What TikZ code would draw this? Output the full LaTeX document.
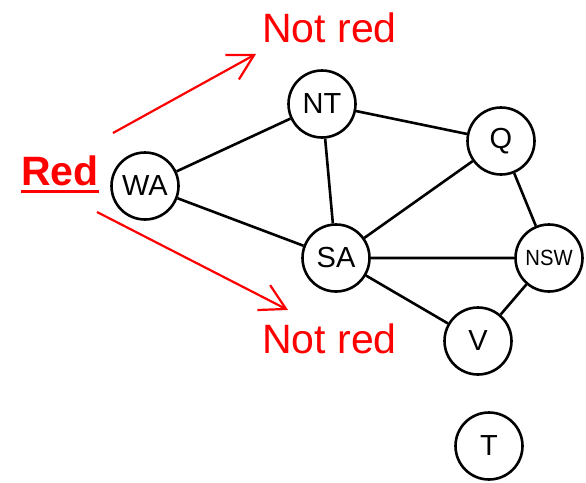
\documentclass[tikz,border=0pt]{standalone}
\usepackage{fontspec}
\setmainfont{Liberation Sans}
\usetikzlibrary{arrows.meta}
\tikzset{
  region/.style={draw,circle,line width=2.6pt,minimum size=67pt,inner sep=0pt,font=\fontsize{29}{29}\selectfont},
  edge/.style={line width=2.6pt},
  hint/.style={red,anchor=base west,inner sep=0pt,font=\fontsize{41}{41}\selectfont},
  pointer/.style={red,line width=2.2pt,-{Straight Barb[length=25pt,width=28pt,line width=2.2pt]}}
}
\begin{document}
\begin{tikzpicture}[x=1pt,y=-1pt]
\useasboundingbox (0,0) rectangle (586,482);
% regions
\node[region] (wa) at (145,186) {WA};
\node[region] (nt) at (322,104) {NT};
\node[region] (q) at (501,141) {Q};
\node[region] (sa) at (336,258) {SA};
\node[region,font=\fontsize{22}{22}\selectfont] (nsw) at (549,258) {\scalebox{0.92}[1]{NSW}};
\node[region] (v) at (478,341) {V};
\node[region] (t) at (489,446) {T};
% borders
\draw[edge] (wa) -- (nt) (wa) -- (sa) (nt) -- (sa) (nt) -- (q) (sa) -- (q)
  (q) -- (nsw) (sa) -- (nsw) (sa) -- (v) (v) -- (nsw);
% labels
\node[hint] (up) at (262,42) {Not red};
\node[hint] (down) at (262,353) {Not red};
\node[hint,font=\bfseries\fontsize{41}{41}\selectfont] (red) at (21,185) {Red};
\draw[red,line width=3pt] ([yshift=-6pt]red.base west) -- ([yshift=-6pt]red.base east);
\coordinate (from1) at (113,133);
\coordinate (to1) at (256,54);
\coordinate (from2) at (97,212);
\coordinate (to2) at (288,310);
\draw[pointer] (from1) -- (to1);
\draw[pointer] (from2) -- (to2);
\end{tikzpicture}
\end{document}
